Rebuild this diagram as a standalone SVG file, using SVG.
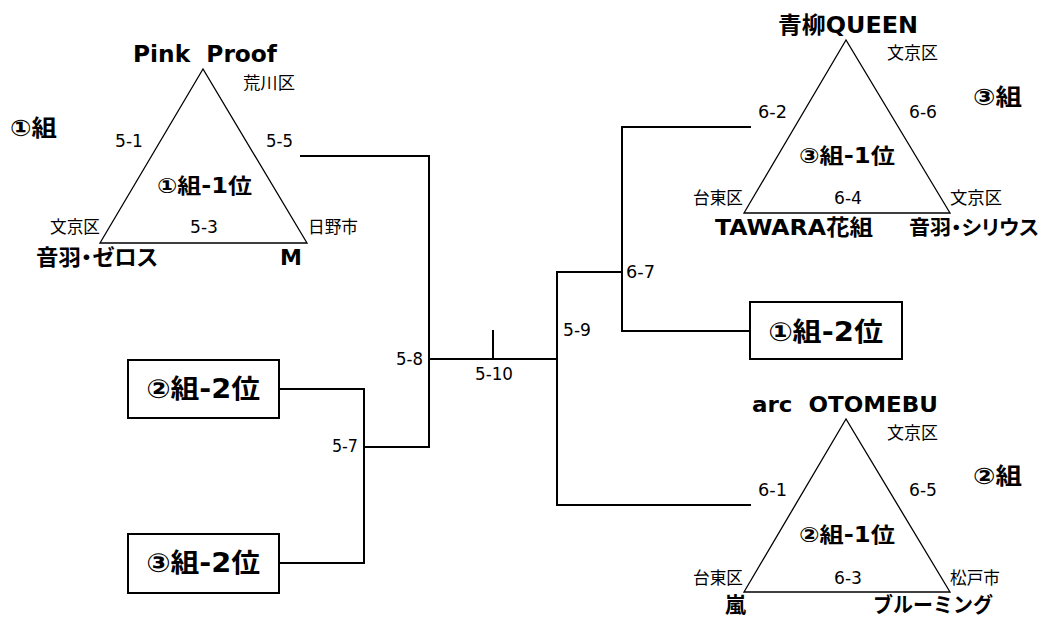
<svg xmlns="http://www.w3.org/2000/svg" width="1046" height="619" viewBox="0 0 1046 619">
<style>
text{font-family:"DejaVu Sans","Noto Sans CJK JP",sans-serif;fill:#000}
.s{font-size:16.5px}
.m{font-size:17px}
.b{font-weight:bold}
.tri{fill:none;stroke:#000;stroke-width:1.3}
.box{fill:#fff;stroke:#000;stroke-width:2}
.ln{fill:none;stroke:#000;stroke-width:2}
</style>
<rect width="1046" height="619" fill="#fff"/>
<g id="connectors">
<polyline class="ln" points="300,156 429,156 429,447 364,447"/>
<polyline class="ln" points="279,389 364,389 364,563 279,563"/>
<line class="ln" x1="429" y1="359" x2="557" y2="359"/>
<line class="ln" x1="493" y1="330" x2="493" y2="359"/>
<polyline class="ln" points="751,505 557,505 557,272 622,272"/>
<polyline class="ln" points="751,127 622,127 622,331 750,331"/>
</g>
<g id="group1">
<polygon class="tri" points="203,69 100,243 307,243"/>
<text class="b" x="133" y="62" style="font-size:23px" textLength="144" lengthAdjust="spacingAndGlyphs" xml:space="preserve">Pink  Proof</text>
<text class="s" x="243" y="89" textLength="52" lengthAdjust="spacingAndGlyphs">荒川区</text>
<text class="b" x="10" y="136" style="font-size:23px" textLength="47" lengthAdjust="spacingAndGlyphs">①組</text>
<text class="m" x="115" y="147" textLength="28" lengthAdjust="spacingAndGlyphs">5-1</text>
<text class="m" x="266" y="147" textLength="27" lengthAdjust="spacingAndGlyphs">5-5</text>
<text class="b" x="157" y="193" style="font-size:21px" textLength="95" lengthAdjust="spacingAndGlyphs">①組-1位</text>
<text class="s" x="50" y="233" textLength="50" lengthAdjust="spacingAndGlyphs">文京区</text>
<text class="m" x="190" y="233" textLength="28" lengthAdjust="spacingAndGlyphs">5-3</text>
<text class="s" x="308" y="233" textLength="50" lengthAdjust="spacingAndGlyphs">日野市</text>
<text class="b" x="36" y="265" style="font-size:22px;font-feature-settings:'palt'" textLength="122" lengthAdjust="spacingAndGlyphs">音羽・ゼロス</text>
<text class="b" x="280" y="265" style="font-size:22px">M</text>
</g>
<g id="group3">
<polygon class="tri" points="846,40 744,213 950,213"/>
<text class="b" x="778" y="33" style="font-size:23px" textLength="140" lengthAdjust="spacingAndGlyphs">青柳QUEEN</text>
<text class="s" x="887" y="59" textLength="51" lengthAdjust="spacingAndGlyphs">文京区</text>
<text class="b" x="973" y="105" style="font-size:23px" textLength="49" lengthAdjust="spacingAndGlyphs">③組</text>
<text class="m" x="758" y="118" textLength="29" lengthAdjust="spacingAndGlyphs">6-2</text>
<text class="m" x="909" y="118" textLength="28" lengthAdjust="spacingAndGlyphs">6-6</text>
<text class="b" x="799" y="163" style="font-size:21px" textLength="96" lengthAdjust="spacingAndGlyphs">③組-1位</text>
<text class="s" x="693" y="204" textLength="50" lengthAdjust="spacingAndGlyphs">台東区</text>
<text class="m" x="834" y="204" textLength="28" lengthAdjust="spacingAndGlyphs">6-4</text>
<text class="s" x="950" y="204" textLength="52" lengthAdjust="spacingAndGlyphs">文京区</text>
<text class="b" x="715" y="235" style="font-size:22px" textLength="158" lengthAdjust="spacingAndGlyphs">TAWARA花組</text>
<text class="b" x="909" y="235" style="font-size:20.5px;font-feature-settings:'palt'" textLength="130" lengthAdjust="spacingAndGlyphs">音羽・シリウス</text>
</g>
<g id="group2">
<polygon class="tri" points="846,419 744,592 950,592"/>
<text class="b" x="752" y="412" style="font-size:22px" textLength="186" lengthAdjust="spacingAndGlyphs" xml:space="preserve">arc  OTOMEBU</text>
<text class="s" x="887" y="439" textLength="51" lengthAdjust="spacingAndGlyphs">文京区</text>
<text class="b" x="973" y="484" style="font-size:23px" textLength="49" lengthAdjust="spacingAndGlyphs">②組</text>
<text class="m" x="758" y="496" textLength="29" lengthAdjust="spacingAndGlyphs">6-1</text>
<text class="m" x="909" y="496" textLength="28" lengthAdjust="spacingAndGlyphs">6-5</text>
<text class="b" x="799" y="542" style="font-size:21px" textLength="96" lengthAdjust="spacingAndGlyphs">②組-1位</text>
<text class="s" x="693" y="584" textLength="50" lengthAdjust="spacingAndGlyphs">台東区</text>
<text class="m" x="834" y="584" textLength="28" lengthAdjust="spacingAndGlyphs">6-3</text>
<text class="s" x="950" y="584" textLength="50" lengthAdjust="spacingAndGlyphs">松戸市</text>
<text class="b" x="725" y="612" style="font-size:21px">嵐</text>
<text class="b" x="873" y="612" style="font-size:21px" textLength="120" lengthAdjust="spacingAndGlyphs">ブルーミング</text>
</g>
<g id="box-g2-2">
<rect class="box" x="128" y="360" width="151" height="58"/>
<text class="b" x="146" y="398" style="font-size:26px" textLength="114" lengthAdjust="spacingAndGlyphs">②組-2位</text>
</g>
<g id="box-g3-2">
<rect class="box" x="128" y="534" width="151" height="59"/>
<text class="b" x="146" y="572" style="font-size:26px" textLength="114" lengthAdjust="spacingAndGlyphs">③組-2位</text>
</g>
<g id="box-g1-2">
<rect class="box" x="750" y="302" width="152" height="57"/>
<text class="b" x="768" y="341" style="font-size:26px" textLength="115" lengthAdjust="spacingAndGlyphs">①組-2位</text>
</g>
<g id="match-labels">
<text class="m" x="396" y="365" textLength="27" lengthAdjust="spacingAndGlyphs">5-8</text>
<text class="m" x="332" y="452" textLength="26" lengthAdjust="spacingAndGlyphs">5-7</text>
<text class="m" x="475" y="380" textLength="38" lengthAdjust="spacingAndGlyphs">5-10</text>
<text class="m" x="563" y="336" textLength="28" lengthAdjust="spacingAndGlyphs">5-9</text>
<text class="m" x="626" y="278" textLength="29" lengthAdjust="spacingAndGlyphs">6-7</text>
</g>
</svg>
